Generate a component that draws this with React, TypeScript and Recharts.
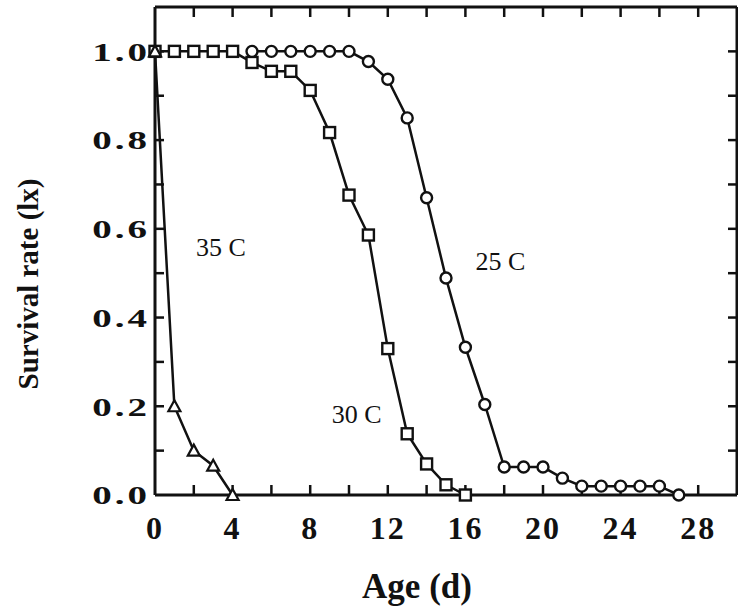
import { ComposedChart, Line, Scatter, XAxis, YAxis, ReferenceDot } from "recharts"

// survival (lx), by age in days
const days25 = [5, 6, 7, 8, 9, 10, 11, 12, 13, 14, 15, 16, 17, 18, 19, 20, 21, 22, 23, 24, 25, 26, 27]
const rate25 = [1, 1, 1, 1, 1, 1, 0.977, 0.937, 0.85, 0.67, 0.489, 0.333, 0.204, 0.063, 0.063, 0.063, 0.038, 0.02, 0.02, 0.02, 0.02, 0.02, 0]

const days30 = [0, 1, 2, 3, 4, 5, 6, 7, 8, 9, 10, 11, 12, 13, 14, 15, 16]
const rate30 = [1, 1, 1, 1, 1, 0.975, 0.955, 0.955, 0.912, 0.817, 0.676, 0.586, 0.33, 0.138, 0.07, 0.023, 0]

const days35 = [0, 1, 2, 3, 4]
const rate35 = [1, 0.2, 0.1, 0.066, 0]

const xTicks = [0, 2, 4, 6, 8, 10, 12, 14, 16, 18, 20, 22, 24, 26, 28]
const yTicks = [0, 0.1, 0.2, 0.3, 0.4, 0.5, 0.6, 0.7, 0.8, 0.9, 1.0]

const seriesLabels = [
  { text: "35 C", day: 3.4, rate: 0.56 },
  { text: "30 C", day: 10.4, rate: 0.184 },
  { text: "25 C", day: 17.8, rate: 0.529 },
]

const X_MAX = 30
const Y_MAX = 1.1

const toRows = (days: number[], rates: number[]) => days.map((d, i) => ({ day: d, rate: rates[i] }))
const data25 = toRows(days25, rate25)
const data30 = toRows(days30, rate30)
const data35 = toRows(days35, rate35)

// anchor points for the inward tick marks on the four sides of the frame
const bottomMarks = xTicks.slice(1).map((t) => ({ day: t, rate: 0 }))
const topMarks = xTicks.slice(1).map((t) => ({ day: t, rate: Y_MAX }))
const leftMarks = yTicks.slice(1).map((t) => ({ day: 0, rate: t }))
const rightMarks = yTicks.slice(1).map((t) => ({ day: X_MAX, rate: t }))

const INK = "#111"
const FONT = '"Liberation Serif", "Times New Roman", serif'

const tickMark = (dx: number, dy: number) => (p: any) => (
  <line
    key={`m-${p.cx}-${p.cy}`}
    x1={p.cx}
    y1={p.cy}
    x2={p.cx + dx}
    y2={p.cy + dy}
    stroke={INK}
    strokeWidth={2.5}
  />
)

function BottomLabel({ x, y, payload }: any) {
  const v = payload.value
  if (v % 4 !== 0) return <g />
  return (
    <text x={x} y={y + 44} textAnchor="middle" fontFamily={FONT} fontWeight="bold" fontSize={32} letterSpacing={2} fill={INK}>
      {v}
    </text>
  )
}

function LeftLabel({ x, y, payload }: any) {
  const v = payload.value
  if (Math.round(v * 10) % 2 !== 0) return <g />
  return (
    <g transform={`translate(${x - 5},${y})`}>
      <text transform="scale(1.5,1)" textAnchor="end" dy="0.36em" fontFamily={FONT} fontWeight="bold" fontSize={26} letterSpacing={2} fill={INK}>
        {v.toFixed(1)}
      </text>
    </g>
  )
}

const squareDot = (p: any) => (
  <rect key={`sq-${p.index}`} x={p.cx - 5.5} y={p.cy - 5.5} width={11} height={11} fill="#fff" stroke={INK} strokeWidth={2.4} />
)

const triangleDot = (p: any) => (
  <path
    key={`tr-${p.index}`}
    d={`M${p.cx},${p.cy - 6} L${p.cx + 6},${p.cy + 5} L${p.cx - 6},${p.cy + 5} Z`}
    fill="#fff"
    stroke={INK}
    strokeWidth={2.2}
  />
)

const axisLine = { stroke: INK, strokeWidth: 3 }

export default function App() {
  return (
    <div style={{ position: "absolute", left: 0, top: 0, width: 738, height: 612, background: "#fff" }}>
      <ComposedChart width={738} height={612} margin={{ top: 6, right: 0, bottom: 77, left: 95 }}>
        <XAxis
          dataKey="day"
          type="number"
          domain={[0, X_MAX]}
          ticks={xTicks}
          interval={0}
          height={40}
          tickSize={0}
          tickMargin={0}
          tickLine={false}
          axisLine={axisLine}
          tick={(p: any) => <BottomLabel {...p} />}
          label={{
            content: ({ viewBox }: any) => (
              <text
                x={viewBox.x + viewBox.width / 2 - 29}
                y={viewBox.y + viewBox.height + 63}
                textAnchor="middle"
                fontFamily={FONT}
                fontWeight="bold"
                fontSize={35}
                fill={INK}
              >
                Age (d)
              </text>
            ),
          }}
        />
        <XAxis
          xAxisId="top"
          orientation="top"
          type="number"
          domain={[0, X_MAX]}
          height={1}
          tick={false}
          tickLine={false}
          axisLine={axisLine}
        />
        <YAxis
          type="number"
          domain={[0, Y_MAX]}
          ticks={yTicks}
          interval={0}
          width={60}
          tickSize={0}
          tickMargin={0}
          tickLine={false}
          axisLine={axisLine}
          tick={(p: any) => <LeftLabel {...p} />}
          label={{
            content: ({ viewBox }: any) => (
              <text
                transform={`translate(${viewBox.x - 57},${viewBox.y + viewBox.height / 2 + 33}) rotate(-90)`}
                textAnchor="middle"
                fontFamily={FONT}
                fontWeight="bold"
                fontSize={29}
                fill={INK}
              >
                Survival rate (lx)
              </text>
            ),
          }}
        />
        <YAxis
          yAxisId="right"
          orientation="right"
          type="number"
          domain={[0, Y_MAX]}
          width={1}
          tick={false}
          tickLine={false}
          axisLine={axisLine}
        />
        <Scatter data={bottomMarks} dataKey="rate" shape={tickMark(0, -10)} isAnimationActive={false} />
        <Scatter data={topMarks} dataKey="rate" shape={tickMark(0, 10)} isAnimationActive={false} />
        <Scatter data={leftMarks} dataKey="rate" shape={tickMark(9, 0)} isAnimationActive={false} />
        <Scatter data={rightMarks} dataKey="rate" shape={tickMark(-9, 0)} isAnimationActive={false} />
        <Line
          data={data30}
          dataKey="rate"
          stroke={INK}
          strokeWidth={2.5}
          dot={squareDot}
          isAnimationActive={false}
        />
        <Line
          data={data25}
          dataKey="rate"
          stroke={INK}
          strokeWidth={2.5}
          dot={{ r: 5.5, fill: "#fff", stroke: INK, strokeWidth: 2.4 }}
          isAnimationActive={false}
        />
        <Line
          data={data35}
          dataKey="rate"
          stroke={INK}
          strokeWidth={2.5}
          dot={triangleDot}
          isAnimationActive={false}
        />
        {seriesLabels.map((s) => (
          <ReferenceDot
            key={s.text}
            x={s.day}
            y={s.rate}
            r={0}
            stroke="none"
            label={{ value: s.text, position: "center", fill: INK, fontSize: 26, fontFamily: FONT }}
          />
        ))}
      </ComposedChart>
    </div>
  )
}
